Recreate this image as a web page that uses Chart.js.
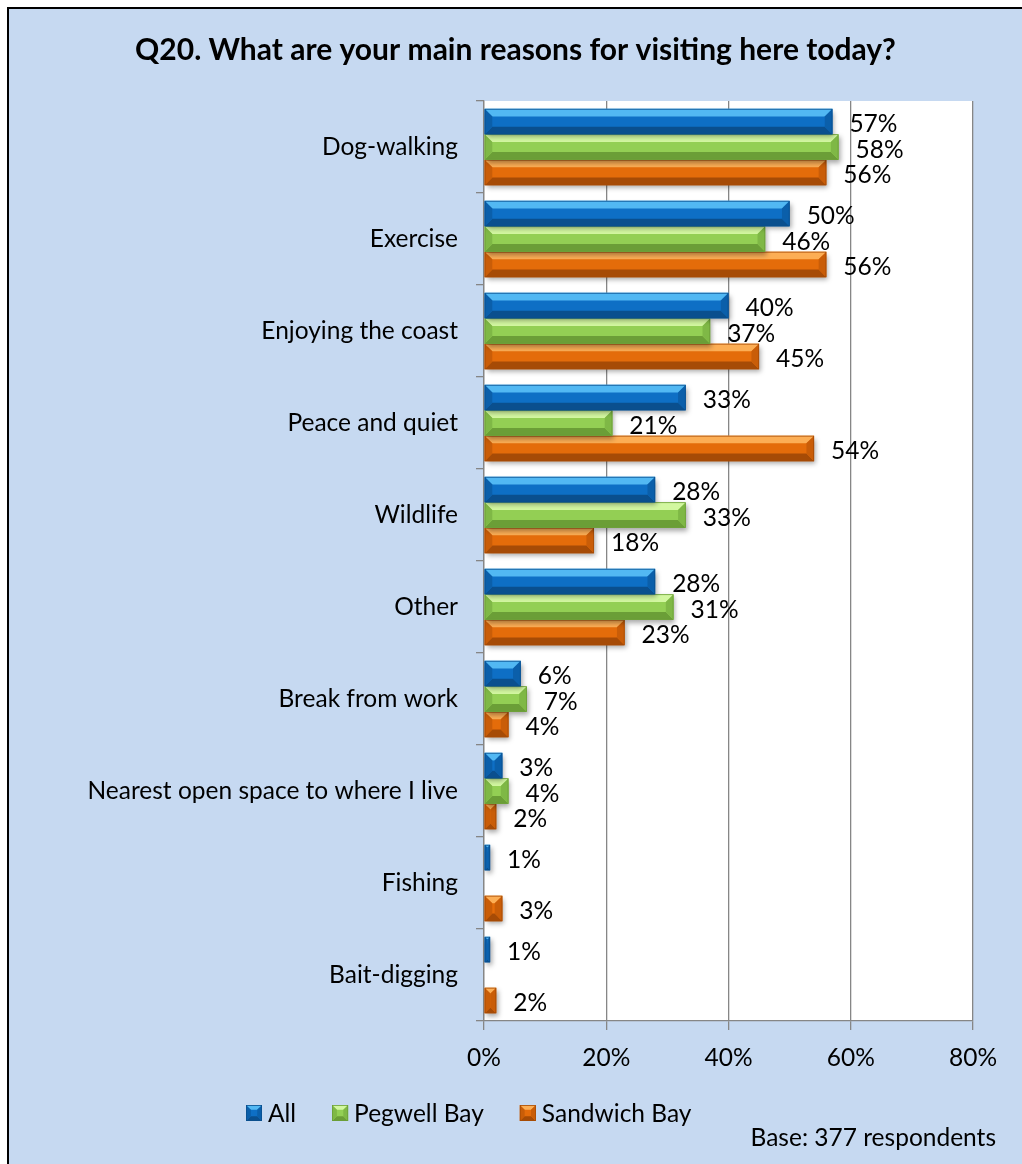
<!DOCTYPE html>
<html>
<head>
<meta charset="utf-8">
<title>Q20 reasons for visiting</title>
<script src="https://cdn.jsdelivr.net/npm/chart.js"></script>
<style>
  html, body { margin: 0; padding: 0; background: #fff; }
  #wrap { width: 1022px; height: 1164px; }
</style>
</head>
<body>
<div id="wrap"><canvas id="reasons-chart" width="1022" height="1164"></canvas></div>
<script>
const categories = [
  'Dog-walking', 'Exercise', 'Enjoying the coast', 'Peace and quiet', 'Wildlife',
  'Other', 'Break from work', 'Nearest open space to where I live', 'Fishing', 'Bait-digging'
];
const seriesNames = ['All', 'Pegwell Bay', 'Sandwich Bay'];
const allValues = [57, 50, 40, 33, 28, 28, 6, 3, 1, 1];
const pegwellValues = [58, 46, 37, 21, 33, 31, 7, 4, 0, 0];
const sandwichValues = [56, 56, 45, 54, 18, 23, 4, 2, 3, 2];
const xTicks = [0, 20, 40, 60, 80];
const titleText = 'Q20. What are your main reasons for visiting here today?';
const baseNote = 'Base: 377 respondents';

const FONT = 'Lato, "Open Sans", sans-serif';
const TEXT_SIZE = 24.5;
const GRID = '#868686';

// light / base / dark shades for the bevelled bars
const palettes = [
  { light: '#52B8F3', base: '#0E6FC5', dark: '#0A4F8E', side: '#0B5FAA' },
  { light: '#D2F7A0', base: '#93CF54', dark: '#6B9E37', side: '#7FB846' },
  { light: '#FCAE55', base: '#E46C0A', dark: '#A64B06', side: '#C95D08' }
];

function poly(ctx, pts, color) {
  ctx.beginPath();
  ctx.moveTo(pts[0][0], pts[0][1]);
  for (let i = 1; i < pts.length; i++) ctx.lineTo(pts[i][0], pts[i][1]);
  ctx.closePath();
  ctx.fillStyle = color;
  ctx.fill();
}

function bevelRect(ctx, L, T, R, B, pal, shadow) {
  const w = R - L, h = B - T;
  if (w <= 0 || h <= 0) return;
  const b = Math.min(h * 0.3, w / 2);
  ctx.save();
  if (shadow) {
    ctx.shadowColor = 'rgba(0,0,0,0.35)';
    ctx.shadowBlur = 5;
    ctx.shadowOffsetX = 2;
    ctx.shadowOffsetY = 3;
  }
  const g = ctx.createLinearGradient(0, T, 0, B);
  g.addColorStop(0, pal.light);
  g.addColorStop(0.3, pal.base);
  g.addColorStop(1, pal.base);
  ctx.fillStyle = g;
  ctx.fillRect(L, T, w, h);
  ctx.restore();
  // top, bottom, left and right bevel faces
  poly(ctx, [[L, T], [R, T], [R - b, T + b], [L + b, T + b]], pal.light);
  poly(ctx, [[L, B], [R, B], [R - b, B - b], [L + b, B - b]], pal.dark);
  poly(ctx, [[R, T], [R, B], [R - b, B - b], [R - b, T + b]], pal.side);
  poly(ctx, [[L, T], [L, B], [L + b, B - b], [L + b, T + b]], pal.side);
  ctx.strokeStyle = pal.dark;
  ctx.lineWidth = 0.8;
  ctx.strokeRect(L + 0.4, T + 0.4, w - 0.8, h - 0.8);
}

const backdrop = {
  id: 'backdrop',
  beforeDraw(chart) {
    const { ctx, chartArea: a } = chart;
    ctx.save();
    ctx.fillStyle = '#fff';
    ctx.fillRect(0, 0, chart.width, chart.height);
    ctx.fillStyle = '#C6D9F1';
    ctx.fillRect(9, 9, chart.width - 9, chart.height - 9);
    ctx.strokeStyle = '#000';
    ctx.lineWidth = 2;
    ctx.beginPath();
    ctx.moveTo(8, chart.height);
    ctx.lineTo(8, 8);
    ctx.lineTo(chart.width, 8);
    ctx.stroke();
    ctx.fillStyle = '#fff';
    ctx.fillRect(a.left, a.top, a.right - a.left, a.bottom - a.top);
    ctx.restore();
  }
};

// bars are painted here from the element geometry the scales computed
const bevelBars = {
  id: 'bevelBars',
  beforeDatasetDraw(chart, args) {
    const pal = palettes[args.index];
    const ctx = chart.ctx;
    args.meta.data.forEach((el, i) => {
      const v = chart.data.datasets[args.index].data[i];
      if (!v) return;
      const p = el.getProps(['x', 'y', 'base', 'height'], true);
      bevelRect(ctx, p.base, p.y - p.height / 2, p.x, p.y + p.height / 2, pal, true);
    });
    return false;
  }
};

const valueLabels = {
  id: 'valueLabels',
  afterDatasetsDraw(chart) {
    const ctx = chart.ctx;
    ctx.save();
    ctx.font = TEXT_SIZE + 'px ' + FONT;
    ctx.fillStyle = '#000';
    ctx.textAlign = 'left';
    ctx.textBaseline = 'middle';
    chart.data.datasets.forEach((ds, di) => {
      chart.getDatasetMeta(di).data.forEach((el, i) => {
        const v = ds.data[i];
        if (!v) return;
        ctx.fillText(v + '%', el.x + 17, el.y + 3);
      });
    });
    ctx.restore();
  }
};

const legendAndNote = {
  id: 'legendAndNote',
  afterDraw(chart) {
    const ctx = chart.ctx;
    ctx.save();
    ctx.font = TEXT_SIZE + 'px ' + FONT;
    ctx.textBaseline = 'middle';
    const y = 1113;
    let x = 246;
    chart.data.datasets.forEach((ds, di) => {
      bevelRect(ctx, x, y - 8, x + 16, y + 8, palettes[di], false);
      ctx.fillStyle = '#000';
      ctx.textAlign = 'left';
      ctx.fillText(ds.label, x + 22, y + 1);
      x += 22 + ctx.measureText(ds.label).width + 36;
    });
    ctx.fillStyle = '#000';
    ctx.textAlign = 'right';
    ctx.fillText(baseNote, 996, 1138);
    ctx.restore();
  }
};

new Chart(document.getElementById('reasons-chart'), {
  type: 'bar',
  data: {
    labels: categories,
    datasets: [
      { label: seriesNames[0], data: allValues, backgroundColor: palettes[0].base },
      { label: seriesNames[1], data: pegwellValues, backgroundColor: palettes[1].base },
      { label: seriesNames[2], data: sandwichValues, backgroundColor: palettes[2].base }
    ]
  },
  options: {
    indexAxis: 'y',
    responsive: false,
    animation: false,
    categoryPercentage: 0.83,
    barPercentage: 1,
    layout: { padding: { top: 9, left: 9, right: 0, bottom: 83 } },
    plugins: {
      legend: { display: false },
      tooltip: { enabled: false },
      title: {
        display: true,
        text: titleText,
        color: '#000',
        font: { family: FONT, size: 30, weight: 'bold' },
        padding: { top: 23, bottom: 33 }
      }
    },
    scales: {
      x: {
        min: 0,
        max: 80,
        // keep the plot's right edge 49px in from the canvas edge
        afterFit(scale) { scale.height = 60; scale.paddingRight = 49; },
        afterBuildTicks(scale) { scale.ticks = xTicks.map(v => ({ value: v })); },
        grid: { color: GRID, lineWidth: 1.3, tickLength: 9 },
        border: { color: GRID, width: 1.3 },
        ticks: { color: '#000', padding: 13, font: { family: FONT, size: TEXT_SIZE }, callback: v => v + '%' }
      },
      y: {
        afterFit(scale) { scale.width = 475; },
        grid: { drawOnChartArea: false, color: GRID, lineWidth: 1.3, tickLength: 8, offset: true },
        border: { color: GRID, width: 1.3 },
        ticks: { color: '#000', padding: 18, font: { family: FONT, size: TEXT_SIZE } }
      }
    }
  },
  plugins: [backdrop, bevelBars, valueLabels, legendAndNote]
});
</script>
</body>
</html>
